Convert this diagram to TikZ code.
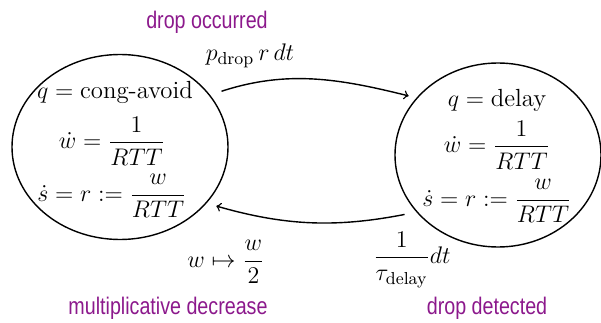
\documentclass[tikz,border=0pt]{standalone}
\usepackage{amsmath}
\usepackage{fontspec}
\newfontfamily\labelfont[FakeStretch=0.82]{Liberation Sans}
\usetikzlibrary{shapes.geometric}
\definecolor{labelpurple}{RGB}{140,25,140}
\tikzset{
  state/.style={draw, ellipse, line width=0.7pt, inner sep=0pt},
  eq/.style={font=\fontsize{12.4}{14}\selectfont, inner sep=0pt},
  tag/.style={font=\labelfont\fontsize{12}{14}\selectfont, text=labelpurple, inner sep=1pt},
  trans/.style={->, line width=0.7pt}
}
\begin{document}
\begin{tikzpicture}[x=0.5pt,y=0.5pt]
  \useasboundingbox (0,0) rectangle (601,322);
  % States
  \node[state, minimum width=108pt, minimum height=92.5pt] (cong) at (120,175) {};
  \node[state, minimum width=103pt, minimum height=92pt] (delay) at (498,167) {};
  % Congestion avoidance
  \node[eq] (cong-q) at (115,230) {$q = \text{cong-avoid}$};
  \node[eq] (cong-w) at (112,181) {$\dot{w} = \dfrac{1}{RTT}$};
  \node[eq] (cong-s) at (112,126) {$\dot{s} = r := \dfrac{w}{RTT}$};
  % Delay
  \node[eq] (delay-q) at (497,222) {$q = \text{delay}$};
  \node[eq] (delay-w) at (497,177) {$\dot{w} = \dfrac{1}{RTT}$};
  \node[eq] (delay-s) at (497,121) {$\dot{s} = r := \dfrac{w}{RTT}$};
  % Transitions
  \draw[trans, shorten <=6pt, shorten >=4pt] (cong.30) to[out=18, in=166] (delay.145);
  \draw[trans, shorten <=6pt, shorten >=5pt] (delay.215) to[out=191, in=344] (cong.327);
  % Transition labels
  \node[tag] (occurred) at (207,300) {drop occurred};
  \node[eq] (rate) at (250,266) {$p_{\text{drop}}\, r\, dt$};
  \node[eq] (halve) at (226,60) {$w \mapsto \dfrac{w}{2}$};
  \node[tag] (decrease) at (168,14) {multiplicative decrease};
  \node[eq] (timeout) at (412,62) {$\dfrac{1}{\tau_{\text{delay}}} dt$};
  \node[tag] (detected) at (487,14) {drop detected};
\end{tikzpicture}
\end{document}
